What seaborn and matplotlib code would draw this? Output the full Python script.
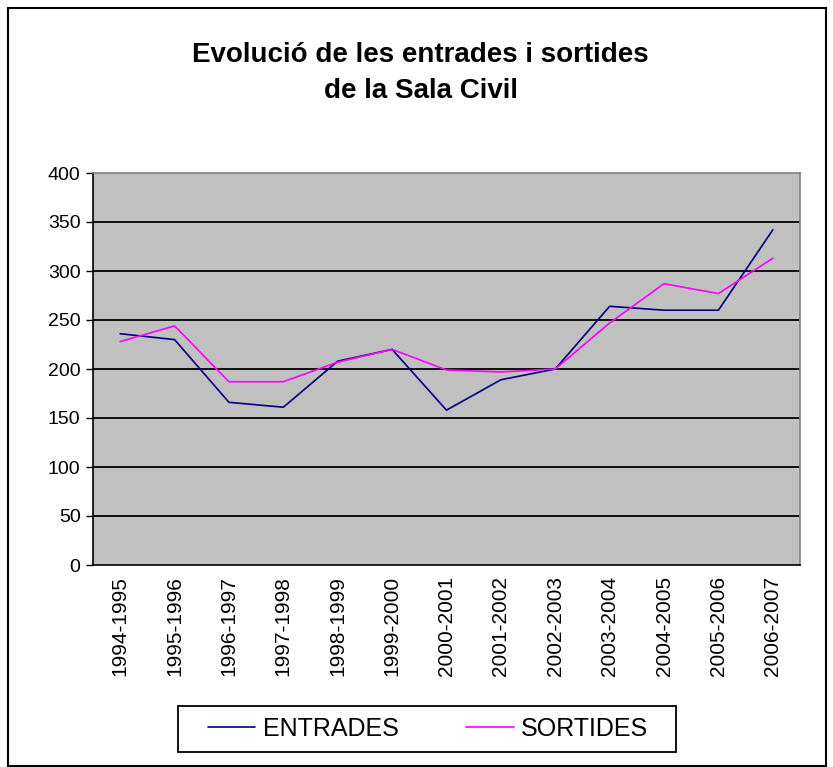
import matplotlib
matplotlib.use("Agg")
import matplotlib.pyplot as plt
import seaborn as sns
import pandas as pd
from matplotlib.patches import Rectangle

# data
periods = ["1994-1995", "1995-1996", "1996-1997", "1997-1998", "1998-1999",
           "1999-2000", "2000-2001", "2001-2002", "2002-2003", "2003-2004",
           "2004-2005", "2005-2006", "2006-2007"]
entrades = [236, 230, 166, 161, 208, 220, 158, 189, 200, 264, 260, 260, 342]
sortides = [228, 244, 187, 187, 207, 220, 199, 197, 200, 247, 287, 277, 313]
y_ticks = [0, 50, 100, 150, 200, 250, 300, 350, 400]

df = pd.DataFrame({"periode": periods * 2,
                   "valor": entrades + sortides,
                   "serie": ["ENTRADES"] * len(periods) + ["SORTIDES"] * len(periods)})

sns.set_style("white")
plt.rcParams["font.family"] = ["Liberation Sans", "DejaVu Sans"]
plt.rcParams["text.color"] = "black"
plt.rcParams["xtick.color"] = "black"
plt.rcParams["ytick.color"] = "black"

W, H = 833, 767
fig = plt.figure(figsize=(W / 100, H / 100), dpi=100)
ax = fig.add_axes([93 / W, 1 - 565 / H, 707 / W, 392 / H])

sns.lineplot(data=df, x="periode", y="valor", hue="serie", sort=False,
             palette={"ENTRADES": "#000080", "SORTIDES": "#FF00FF"},
             linewidth=1.2, ax=ax, legend=False)

ax.set_facecolor("#C0C0C0")
ax.set_xlim(-0.5, len(periods) - 0.5)
ax.set_ylim(0, 400)
ax.set_yticks(y_ticks)
ax.set_yticklabels([str(v) for v in y_ticks], fontsize=14)
for v in y_ticks[1:-1]:
    ax.axhline(v, color="black", linewidth=1.3, zorder=1)

ax.set_xticks(range(len(periods)))
ax.set_xticklabels(periods, rotation=90, fontsize=15)
ax.set_xticks([i - 0.5 for i in range(len(periods) + 1)], minor=True)
ax.tick_params(axis="x", which="major", length=0, pad=8)
ax.tick_params(axis="x", which="minor", length=5, width=1, color="black")
ax.tick_params(axis="y", length=5, width=1, color="black", left=True, pad=4)
ax.set_xlabel("")
ax.set_ylabel("")

for side in ["top", "right"]:
    ax.spines[side].set_color("#808080")
for side in ["left", "bottom"]:
    ax.spines[side].set_color("black")
for s in ax.spines.values():
    s.set_linewidth(1.2)

fig.text(0.505, 1 - 55 / H, "Evolució de les entrades i sortides",
         ha="center", va="center", fontsize=20, fontweight="bold")
fig.text(0.505, 1 - 91 / H, "de la Sala Civil",
         ha="center", va="center", fontsize=20, fontweight="bold")

# legend: entries centred, box drawn separately
h1, = ax.plot([], [], color="#000080", linewidth=1.2)
h2, = ax.plot([], [], color="#FF00FF", linewidth=1.2)
fig.legend([h1, h2], ["ENTRADES", "SORTIDES"], loc="center", ncol=2,
           bbox_to_anchor=(428 / W, 1 - 729 / H),
           fontsize=18, handlelength=1.9, handletextpad=0.3, columnspacing=2.7,
           frameon=False)
fig.patches.append(Rectangle((178 / W, 1 - 752 / H), 498 / W, 46 / H,
                             transform=fig.transFigure, fill=False,
                             edgecolor="black", linewidth=1.3))

fig.patches.append(Rectangle((8 / W, 1 / H), 818 / W, 758 / H, transform=fig.transFigure,
                             fill=False, edgecolor="black", linewidth=1.5))

fig.savefig("out.png", dpi=100)
